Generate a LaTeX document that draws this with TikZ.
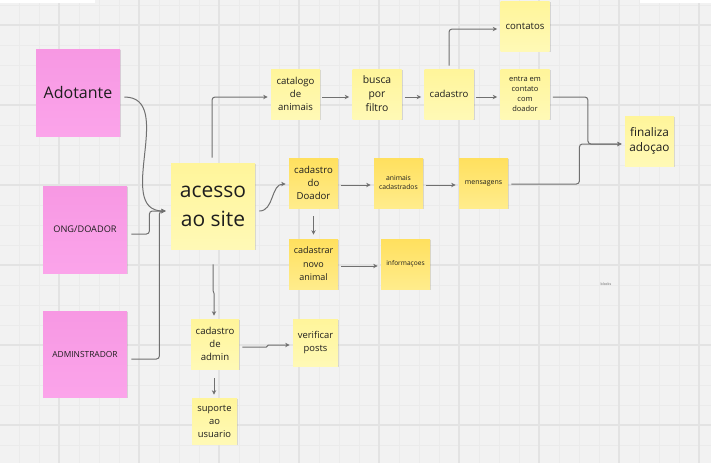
\documentclass[tikz,border=0pt]{standalone}
\usepackage{fontspec}
\setmainfont{Open Sans}
\usetikzlibrary{positioning,shadows,arrows.meta}

\definecolor{fundo}{HTML}{F2F2F2}
\definecolor{gradefina}{HTML}{EBEBEB}
\definecolor{gradeforte}{HTML}{E3E3E3}
\definecolor{rosaA}{HTML}{F798E3}
\definecolor{rosaB}{HTML}{FBA4EA}
\definecolor{claroA}{HTML}{FFF59A}
\definecolor{claroB}{HTML}{FFF9B6}
\definecolor{escuroA}{HTML}{FFE05E}
\definecolor{escuroB}{HTML}{FFEC8C}
\definecolor{linha}{HTML}{707070}
\definecolor{tinta}{HTML}{1E1E1E}

\tikzset{
  nota/.style={inner sep=0pt, align=center, text=tinta,
    drop shadow={shadow xshift=0.5pt, shadow yshift=-0.7pt, opacity=0.12, fill=black}},
  rosa/.style={nota, top color=rosaA, bottom color=rosaB, minimum width=42pt, minimum height=43.5pt},
  claro/.style={nota, top color=claroA, bottom color=claroB, minimum width=24.5pt, minimum height=25pt},
  escuro/.style={nota, top color=escuroA, bottom color=escuroB, minimum width=24.5pt, minimum height=25pt},
  seta/.style={draw=linha, line width=0.5pt, -{Stealth[length=2.2pt,width=2.2pt]}},
  letra/.style={font=\fontsize{4.8}{6.5}\selectfont},
}

\begin{document}
\begin{tikzpicture}[x=0.5pt,y=-0.5pt]

\useasboundingbox (0,0) rectangle (711,463);
\fill[fundo] (0,0) rectangle (711,463);

% grade
\foreach \gx in {-1,19,...,711} {
    \draw[gradefina, line width=0.5pt] (\gx,0) -- (\gx,463);
}
\foreach \gy in {5,25,...,463} {
    \draw[gradefina, line width=0.5pt] (0,\gy) -- (711,\gy);
}
\foreach \gx in {59,139,...,711} {
    \draw[gradeforte, line width=0.8pt] (\gx,0) -- (\gx,463);
}
\foreach \gy in {25,105,...,463} {
    \draw[gradeforte, line width=0.8pt] (0,\gy) -- (711,\gy);
}
\fill[white] (0,0) rectangle (95,2.5);
\fill[white] (640,0) rectangle (711,2.5);

% usuarios
\node[rosa, font=\fontsize{8}{10}\selectfont] (adot) at (78,92.5) {Adotante};
\node[rosa, font=\fontsize{4.6}{6}\selectfont] (ong) at (85,229.5) {ONG/DOADOR};
\node[rosa, minimum height=43pt, font=\fontsize{4.2}{6}\selectfont] (admin) at (85,354) {ADMINSTRADOR};

\node[claro, minimum width=42pt, minimum height=43pt, font=\fontsize{10.5}{14.5}\selectfont] (acesso) at (213,206) {acesso\\ao site};

% adotante
\node[claro, letra] (catalogo) at (295.5,94) {catalogo\\de\\animais};
\node[claro, font=\fontsize{5.2}{7}\selectfont] (busca) at (377,94) {busca\\por\\filtro};
\node[claro, letra] (cadastro) at (449,94) {cadastro};
\node[claro, letra] (contatos) at (525,26) {contatos};
\node[claro, font=\fontsize{3.75}{5}\selectfont] (entra) at (525,94) {entra em\\contato\\com\\doador};
\node[claro, font=\fontsize{5.9}{7.5}\selectfont] (finaliza) at (649.5,141) {finaliza\\adoçao};

% doador
\node[escuro, letra] (doador) at (313.5,183) {cadastro\\do\\Doador};
\node[escuro, font=\fontsize{3.4}{4.5}\selectfont] (animais) at (398.5,183) {animais\\cadastrados};
\node[escuro, font=\fontsize{3.5}{4.5}\selectfont] (mensagens) at (483.5,183) {mensagens};
\node[escuro, font=\fontsize{4.5}{6.75}\selectfont] (novo) at (313.5,264) {cadastrar\\novo\\animal};
\node[escuro, font=\fontsize{3.3}{4.5}\selectfont] (info) at (405.5,264) {informaçoes};

% admin
\node[claro, letra, minimum width=24pt] (cadadmin) at (215,344) {cadastro\\de\\admin};
\node[claro, font=\fontsize{4.7}{6.5}\selectfont, minimum width=22.5pt, minimum height=23.5pt] (verificar) at (315.5,342.5) {verificar\\posts};
\node[claro, font=\fontsize{4.7}{6.5}\selectfont, minimum width=22.5pt, minimum height=23pt] (suporte) at (214.5,421) {suporte\\ao\\usuario};

\node[text=black!60, font=\fontsize{1.8}{2}\selectfont] (marca) at (606,284) {blocks};

% entrada do site
\coordinate (entrada) at ([shift={(-5,5)}]acesso.west);
\draw[seta] ([shift={(4,4.5)}]adot.east) to[out=0, in=180, looseness=1.1] (entrada);
\draw[seta, rounded corners=1.5] ([shift={(4,4.5)}]ong.east) -- ++(18,0) |- (entrada);
\draw[seta, rounded corners=1.5] ([shift={(4,5)}]admin.east) -- ++(28,0) |- (entrada);

% fluxo adotante
\draw[seta, rounded corners=1.5] ([shift={(-1,-5)}]acesso.north) |- ([shift={(-3,3)}]catalogo.west);
\draw[seta] ([shift={(2,3)}]catalogo.east) -- ([shift={(-3,3)}]busca.west);
\draw[seta] ([shift={(3,3)}]busca.east) -- ([shift={(-3,3)}]cadastro.west);
\draw[seta] ([shift={(2,3)}]cadastro.east) -- ([shift={(-3,3)}]entra.west);
\draw[seta, rounded corners=1.5] ([shift={(0,-3)}]cadastro.north) |- ([shift={(-3,3)}]contatos.west);
\draw[seta, rounded corners=1.5] ([shift={(3,3)}]entra.east) -- ++(35,0) |- ([shift={(-3,3)}]finaliza.west);
\draw[seta, rounded corners=1.5] ([shift={(3,1)}]mensagens.east) -- ++(68,0) |- ([shift={(-3,3)}]finaliza.west);

% fluxo doador
\draw[seta] ([shift={(4,5)}]acesso.east) to[out=0, in=180] ([shift={(-3,1)}]doador.west);
\draw[seta] ([shift={(3,2)}]doador.east) -- ([shift={(-3,2)}]animais.west);
\draw[seta] ([shift={(3,2)}]animais.east) -- ([shift={(-3,2)}]mensagens.west);
\draw[seta] ([shift={(0,8)}]doador.south) -- ([shift={(0,-4)}]novo.north);
\draw[seta] ([shift={(3,2)}]novo.east) -- ([shift={(-3,2)}]info.west);

% fluxo admin
\draw[seta] ([shift={(0,15)}]acesso.south) -- ++(0,26) -- ++(1,3) -- ([shift={(-1,-3)}]cadadmin.north);
\draw[seta] ([shift={(3,3)}]cadadmin.east) -- ++(24,0) -- ++(2,-2) -- ([shift={(-3,2.5)}]verificar.west);
\draw[seta] ([shift={(-1,9)}]cadadmin.south) -- ([shift={(-0.5,-3)}]suporte.north);

\end{tikzpicture}
\end{document}
